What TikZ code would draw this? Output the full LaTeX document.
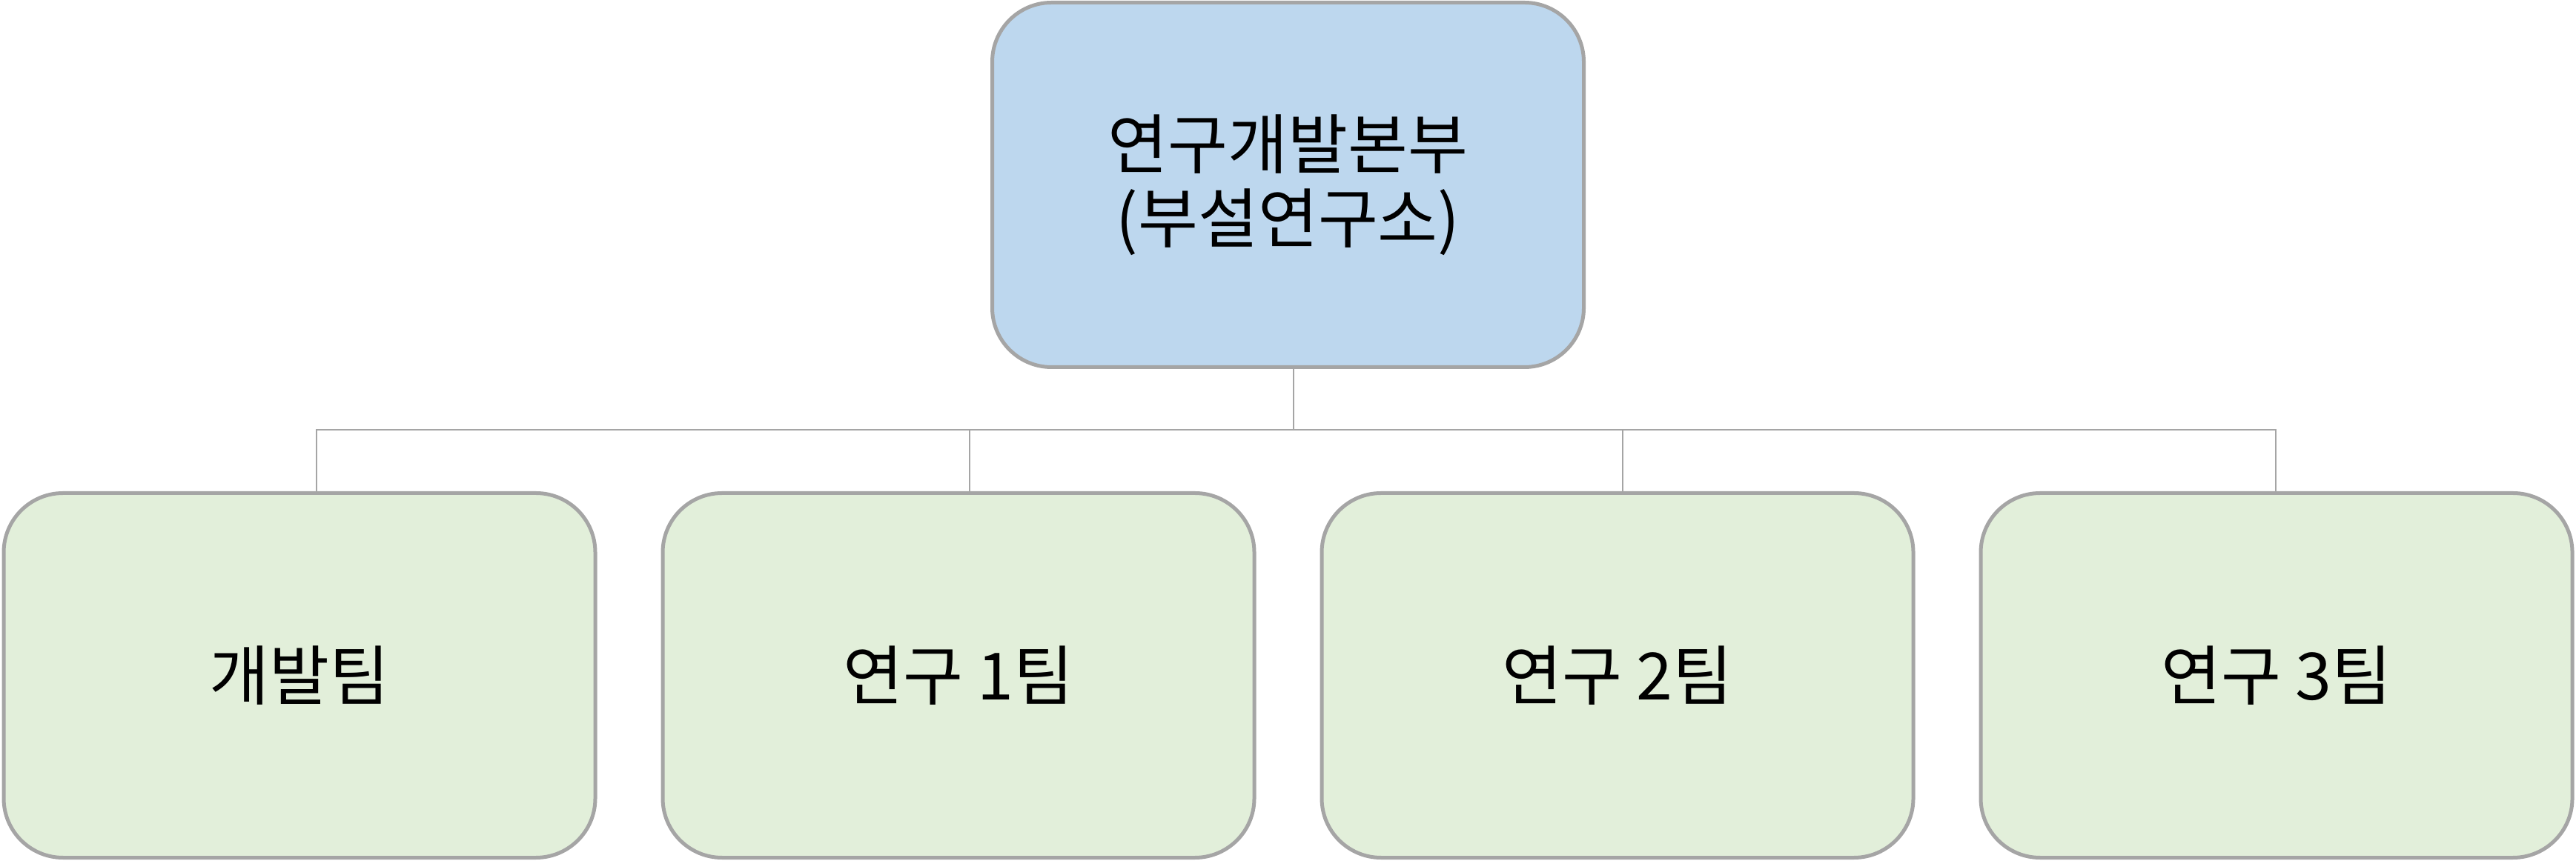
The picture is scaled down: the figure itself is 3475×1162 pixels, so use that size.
\documentclass[tikz,border=0pt]{standalone}
\usepackage{fontspec}
\setmainfont{Noto Sans CJK KR}
\definecolor{topfill}{HTML}{BDD7EE}
\definecolor{teamfill}{HTML}{E2EFDA}
\definecolor{edgegray}{HTML}{A5A5A5}
\begin{document}
\begin{tikzpicture}[x=0.25pt,y=-0.25pt,
  boxbase/.style={draw=edgegray, line width=1.25pt, rounded corners=20pt,
    minimum width=199.5pt, minimum height=123pt, inner sep=0pt,
    align=center, text=black, font=\fontsize{22pt}{25pt}\selectfont},
  headbox/.style={boxbase, fill=topfill},
  teambox/.style={boxbase, fill=teamfill},
  conn/.style={draw=edgegray, line width=0.5pt}]
\useasboundingbox (0,0) rectangle (3475,1162);
\node[headbox] (top) at (1737.5,249.5) {연구개발본부\\(부설연구소)};
\node[teambox] (b1) at (404,911.5) {개발팀};
\node[teambox] (b2) at (1293,911.5) {연구 1팀};
\node[teambox] (b3) at (2182,911.5) {연구 2팀};
\node[teambox] (b4) at (3071,911.5) {연구 3팀};
\coordinate (hub) at (1745,580);
\draw[conn] (hub) -- (hub |- top.south);
\draw[conn] ([xshift=5.75pt]b1.north) |- (hub);
\draw[conn] ([xshift=3.75pt]b2.north) |- (hub);
\draw[conn] ([xshift=1.75pt]b3.north) |- (hub);
\draw[conn] ([xshift=-0.25pt]b4.north) |- (hub);
\end{tikzpicture}
\end{document}
